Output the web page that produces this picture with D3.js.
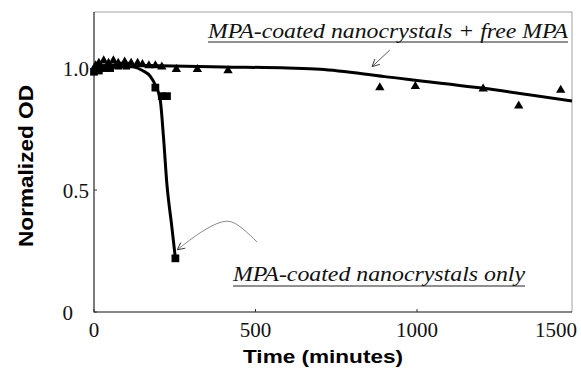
<!DOCTYPE html>
<html>
<head>
<meta charset="utf-8">
<script src="https://cdn.jsdelivr.net/npm/d3@7/dist/d3.min.js"></script>
<style>
  body { margin: 0; background: #fff; }
  svg { display: block; }
</style>
</head>
<body>
<svg id="chart"></svg>
<script>
var width = 581;
var height = 374;

// data (time in minutes, normalized OD)
var squares = [[0, 0.985], [15, 0.99], [30, 1.0], [50, 1.0], [75, 1.01], [100, 1.01],
               [190, 0.92], [210, 0.885], [226, 0.885], [252, 0.22]];
var triangles = [[5, 1.01], [15, 1.02], [30, 1.03], [45, 1.02], [60, 1.03], [75, 1.02],
                 [95, 1.025], [115, 1.02], [135, 1.02], [150, 1.015], [170, 1.01],
                 [190, 1.01], [210, 1.005], [255, 0.995], [320, 0.995], [415, 0.99],
                 [885, 0.92], [995, 0.925], [1205, 0.915], [1315, 0.845], [1445, 0.91]];
var squareFit = [[0, 0.99], [40, 1.0], [80, 1.008], [120, 1.005], [150, 0.99], [175, 0.965],
                 [190, 0.93], [205, 0.87], [215, 0.72], [226, 0.52], [240, 0.36], [252, 0.22]];
var triangleFit = [[0, 1.005], [60, 1.012], [200, 1.01], [400, 1.005], [600, 1.0],
                   [700, 0.995], [900, 0.965], [1200, 0.918], [1480, 0.865]];
var xTicks = [0, 500, 1000, 1500];
var yTicks = [0, 0.5, 1.0];
var yTickLabels = ["0", "0.5", "1.0"];

var svg = d3.select("#chart")
  .attr("width", width)
  .attr("height", height);

var x = d3.scaleLinear().domain([0, 1480]).range([94, 572]);
var y = d3.scaleLinear().domain([0, 1.23]).range([312, 12]);

////////////////////////////////////////////////////////////////////////////////
//                                                                     Frame  //
////////////////////////////////////////////////////////////////////////////////

// top and right border: thin grey
svg.append("path")
  .attr("d", "M" + x(0) + "," + y(1.23) + "H" + x(1480) + "V" + y(0))
  .attr("fill", "none")
  .attr("stroke", "#888")
  .attr("stroke-width", 0.8);

// left and bottom axis
svg.append("path")
  .attr("d", "M" + x(0) + "," + y(1.23) + "V" + y(0) + "H" + x(1480))
  .attr("fill", "none")
  .attr("stroke", "#111")
  .attr("stroke-width", 1.1);

// small inward ticks
svg.selectAll(".ytick").data(yTicks).enter().append("line")
  .attr("x1", x(0)).attr("x2", x(0) + 3)
  .attr("y1", function(d) { return y(d); })
  .attr("y2", function(d) { return y(d); })
  .attr("stroke", "#333");

svg.selectAll(".xtick").data(xTicks.filter(function(d) { return d < 1480; })).enter().append("line")
  .attr("x1", function(d) { return x(d); })
  .attr("x2", function(d) { return x(d); })
  .attr("y1", y(0)).attr("y2", y(0) - 3)
  .attr("stroke", "#333");

// tick labels
svg.selectAll(".xlab").data(xTicks).enter().append("text")
  .attr("x", function(d) { return d == 1500 ? width - 4 : x(d); })
  .attr("y", y(0) + 25)
  .attr("text-anchor", function(d) { return d == 1500 ? "end" : "middle"; })
  .attr("font-family", "Liberation Serif, Times New Roman, serif")
  .attr("font-size", 21)
  .attr("fill", "#111")
  .text(function(d) { return d; });

svg.selectAll(".ylab").data(yTicks).enter().append("text")
  .attr("x", function(d, i) { return i == 0 ? x(0) - 21 : x(0) - 5; })
  .attr("y", function(d) { return y(d) + 8; })
  .attr("text-anchor", "end")
  .attr("font-family", "Liberation Serif, Times New Roman, serif")
  .attr("font-size", 21)
  .attr("fill", "#111")
  .text(function(d, i) { return yTickLabels[i]; });

// axis titles
svg.append("text")
  .attr("x", 243).attr("y", 363)
  .attr("font-family", "Liberation Sans, Arial, sans-serif")
  .attr("font-weight", "bold")
  .attr("font-size", 19)
  .attr("textLength", 160)
  .attr("lengthAdjust", "spacingAndGlyphs")
  .text("Time (minutes)");

svg.append("text")
  .attr("transform", "translate(33,247) rotate(-90)")
  .attr("font-family", "Liberation Sans, Arial, sans-serif")
  .attr("font-weight", "bold")
  .attr("font-size", 20)
  .attr("textLength", 162)
  .attr("lengthAdjust", "spacingAndGlyphs")
  .text("Normalized OD");

////////////////////////////////////////////////////////////////////////////////
//                                                          Fits and markers  //
////////////////////////////////////////////////////////////////////////////////

var line = d3.line()
  .x(function(d) { return x(d[0]); })
  .y(function(d) { return y(d[1]); })
  .curve(d3.curveMonotoneX);

svg.append("path")
  .datum(triangleFit)
  .attr("d", line)
  .attr("fill", "none")
  .attr("stroke", "#000")
  .attr("stroke-width", 3);

svg.append("path")
  .datum(squareFit)
  .attr("d", line)
  .attr("fill", "none")
  .attr("stroke", "#000")
  .attr("stroke-width", 3);

var tri = d3.symbol().type(d3.symbolTriangle).size(38);
var sq = d3.symbol().type(d3.symbolSquare).size(60);

svg.selectAll(".tri").data(triangles).enter().append("path")
  .attr("d", tri)
  .attr("transform", function(d) { return "translate(" + x(d[0]) + "," + y(d[1]) + ")"; })
  .attr("fill", "#000");

svg.selectAll(".sq").data(squares).enter().append("path")
  .attr("d", sq)
  .attr("transform", function(d) { return "translate(" + x(d[0]) + "," + y(d[1]) + ")"; })
  .attr("fill", "#000");

////////////////////////////////////////////////////////////////////////////////
//                                                               Annotations  //
////////////////////////////////////////////////////////////////////////////////

var serif = "Liberation Serif, Times New Roman, serif";

svg.append("text")
  .attr("x", 208).attr("y", 38)
  .attr("font-family", serif)
  .attr("font-style", "italic")
  .attr("font-size", 21)
  .attr("textLength", 360)
  .attr("lengthAdjust", "spacingAndGlyphs")
  .attr("fill", "#111")
  .text("MPA-coated nanocrystals + free MPA");
svg.append("line")
  .attr("x1", 208).attr("x2", 568).attr("y1", 42).attr("y2", 42)
  .attr("stroke", "#222").attr("stroke-width", 1);

svg.append("text")
  .attr("x", 233).attr("y", 281)
  .attr("font-family", serif)
  .attr("font-style", "italic")
  .attr("font-size", 21)
  .attr("textLength", 292)
  .attr("lengthAdjust", "spacingAndGlyphs")
  .attr("fill", "#111")
  .text("MPA-coated nanocrystals only");
svg.append("line")
  .attr("x1", 233).attr("x2", 525).attr("y1", 286).attr("y2", 286)
  .attr("stroke", "#222").attr("stroke-width", 1);

svg.append("defs").append("marker")
  .attr("id", "head")
  .attr("viewBox", "0 0 10 10")
  .attr("refX", 9).attr("refY", 5)
  .attr("markerWidth", 9).attr("markerHeight", 9)
  .attr("markerUnits", "userSpaceOnUse")
  .attr("orient", "auto")
  .append("path")
  .attr("d", "M1,1 L9,5 L1,9")
  .attr("fill", "none")
  .attr("stroke", "#333")
  .attr("stroke-width", 1);

// short arrow to the free MPA curve
var arrowTop = [[916, 1.074], [861, 1.006]];
svg.append("path")
  .datum(arrowTop)
  .attr("d", d3.line().x(function(d) { return x(d[0]); }).y(function(d) { return y(d[1]); }))
  .attr("fill", "none")
  .attr("stroke", "#333")
  .attr("stroke-width", 0.8)
  .attr("marker-end", "url(#head)");

// curved arrow to the last square
var arrowBottom = [[505, 0.287], [440, 0.37], [399, 0.378], [330, 0.33], [258, 0.255]];
svg.append("path")
  .datum(arrowBottom)
  .attr("d", d3.line().x(function(d) { return x(d[0]); }).y(function(d) { return y(d[1]); })
    .curve(d3.curveBasis))
  .attr("fill", "none")
  .attr("stroke", "#555")
  .attr("stroke-width", 0.7)
  .attr("marker-end", "url(#head)");
</script>
</body>
</html>
